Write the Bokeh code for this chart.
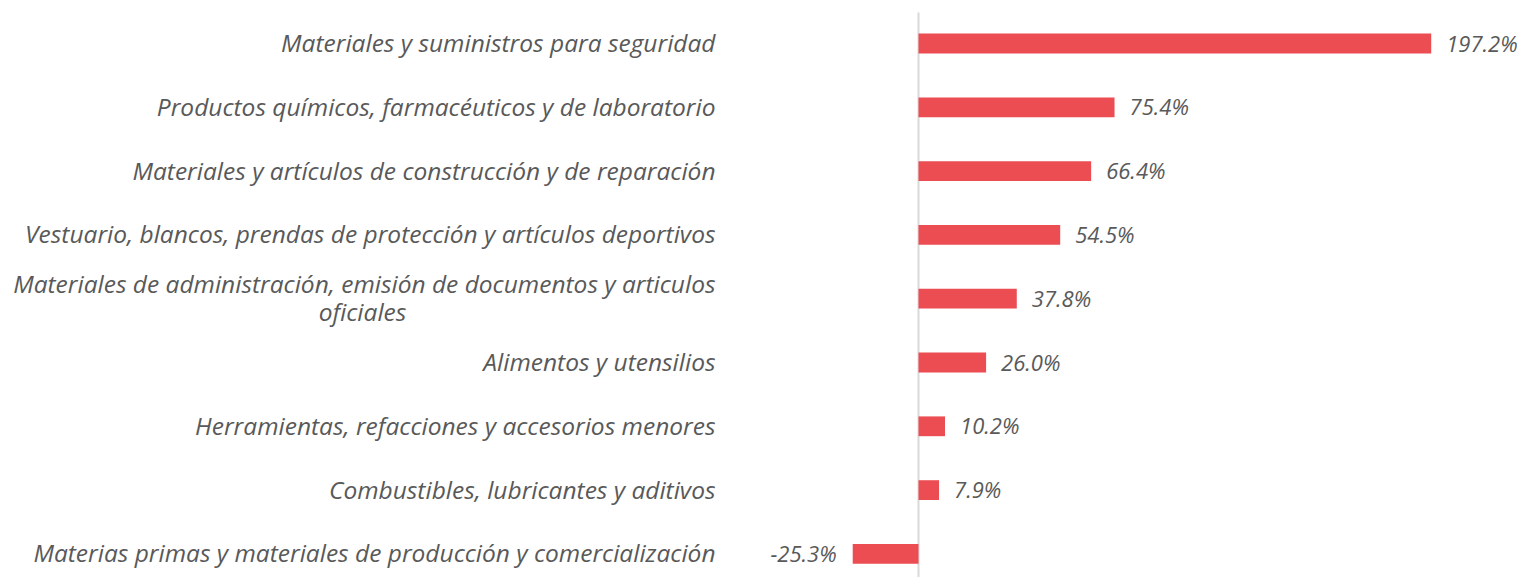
from bokeh.plotting import figure
from bokeh.models import Range1d, ColumnDataSource
from bokeh.core.properties import value
from bokeh.embed import file_html
from bokeh.resources import INLINE

categories = [
    "Materiales y suministros para seguridad",
    "Productos químicos, farmacéuticos y de laboratorio",
    "Materiales y artículos de construcción y de reparación",
    "Vestuario, blancos, prendas de protección y artículos deportivos",
    "Materiales de administración, emisión de documentos y articulos",
    "Alimentos y utensilios",
    "Herramientas, refacciones y accesorios menores",
    "Combustibles, lubricantes y aditivos",
    "Materias primas y materiales de producción y comercialización",
]
category_second_line = ["", "", "", "", "oficiales", "", "", "", ""]
values = [197.2, 75.4, 66.4, 54.5, 37.8, 26.0, 10.2, 7.9, -25.3]
value_labels = ["197.2%", "75.4%", "66.4%", "54.5%", "37.8%", "26.0%", "10.2%", "7.9%", "-25.3%"]

W, H = 1517, 577
zero_px = 918.0
px_per_unit = 2.6
row_px = 63.8
first_row_px = 43.0

x_start = -zero_px / px_per_unit
x_end = (W - zero_px) / px_per_unit
y_top = -first_row_px / row_px
y_bottom = y_top + H / row_px

p = figure(width=W, height=H, output_backend="svg", toolbar_location=None,
           x_range=Range1d(x_start, x_end), y_range=Range1d(y_bottom, y_top),
           min_border=0, outline_line_color=None)
p.axis.visible = False
p.grid.visible = False
p.background_fill_color = "white"
p.border_fill_color = "white"

n = len(categories)
rows = list(range(n))
src = ColumnDataSource(dict(y=rows, v=values))

# zero line
p.segment(x0=[0], x1=[0], y0=[y_top + 12 / row_px], y1=[y_bottom], line_color="#d9d9d9", line_width=2)

p.hbar(y="y", left=0, right="v", height=0.31, source=src, fill_color="#EB4D53", line_color=None)

FONT = value("Open Sans")
TC = "#595959"
FS = "24.5px"
VFS = "22px"

pos = [i for i in rows if values[i] >= 0]
neg = [i for i in rows if values[i] < 0]
p.text(x=[values[i] for i in pos], y=pos, text=[value_labels[i] for i in pos],
       x_offset=15, y_offset=-1, text_align="left", text_baseline="middle", text_font=FONT,
       text_font_style="italic", text_font_size=VFS, text_color=TC)
p.text(x=[values[i] for i in neg], y=neg, text=[value_labels[i] for i in neg],
       x_offset=-16, y_offset=-1, text_align="right", text_baseline="middle", text_font=FONT,
       text_font_style="italic", text_font_size=VFS, text_color=TC)

single = [i for i in rows if category_second_line[i] == ""]
double = [i for i in rows if category_second_line[i] != ""]
p.text(x=[0] * len(single), y=single, text=[categories[i] for i in single],
       x_offset=-203, y_offset=-1, text_align="right", text_baseline="middle", text_font=FONT,
       text_font_style="italic", text_font_size=FS, text_color=TC)
p.text(x=[0] * len(double), y=[i - 15 / row_px for i in double], text=[categories[i] for i in double],
       x_offset=-203, text_align="right", text_baseline="middle", text_font=FONT,
       text_font_style="italic", text_font_size=FS, text_color=TC)
p.text(x=[0] * len(double), y=[i + 13 / row_px for i in double], text=[category_second_line[i] for i in double],
       x_offset=-556, text_align="center", text_baseline="middle", text_font=FONT,
       text_font_style="italic", text_font_size=FS, text_color=TC)

open("out.html", "w").write(file_html(p, INLINE))
